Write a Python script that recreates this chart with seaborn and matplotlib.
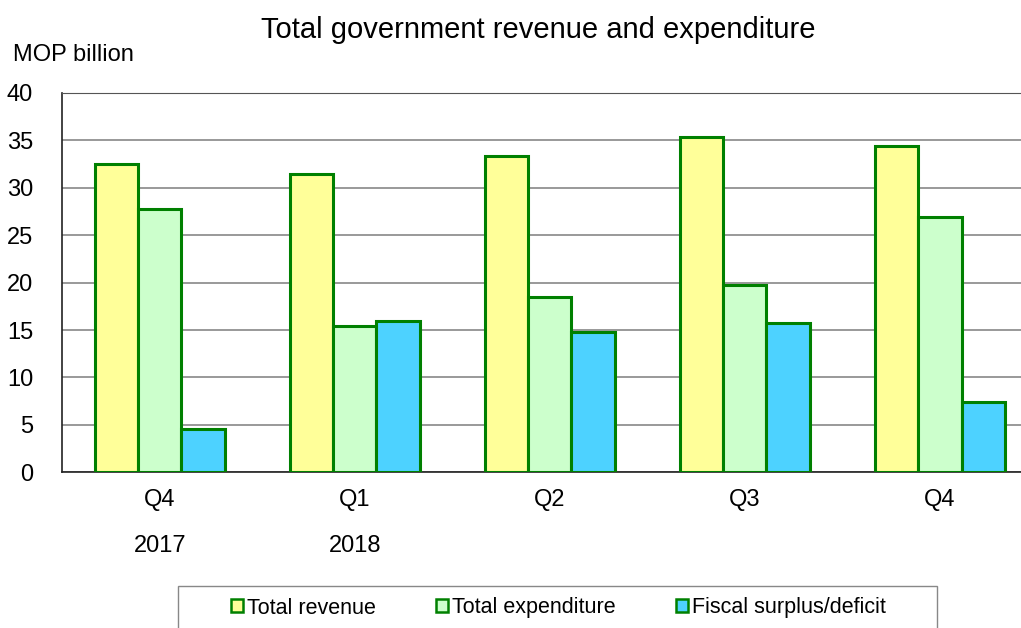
import pandas as pd
import matplotlib.pyplot as plt
import seaborn as sns
from matplotlib.patches import Rectangle

# Values (MOP billion)
quarters = ['Q4', 'Q1', 'Q2', 'Q3', 'Q4 ']
years = ['2017', '2018', '', '', '']
revenue = [32.5, 31.4, 33.4, 35.4, 34.4]
expenditure = [27.8, 15.4, 18.5, 19.7, 26.9]
surplus = [4.6, 16.0, 14.8, 15.7, 7.4]
series = ['Total revenue', 'Total expenditure', 'Fiscal surplus/deficit']
colors = ['#FFFF99', '#CCFFCC', '#4DD2FF']

df = pd.DataFrame({
    'quarter': quarters * 3,
    'value': revenue + expenditure + surplus,
    'series': [s for s in series for _ in quarters],
})

sns.set_style('white')
plt.rcParams['font.family'] = ['Liberation Sans', 'DejaVu Sans']
plt.rcParams['text.color'] = 'black'
plt.rcParams['xtick.color'] = 'black'
plt.rcParams['ytick.color'] = 'black'

fig = plt.figure(figsize=(10.21, 6.28), dpi=100)
# axes run a little past the right edge, as in the original
ax = fig.add_axes([0.061, 0.248, 0.955, 0.604])

sns.barplot(data=df, x='quarter', y='value', hue='series', palette=colors,
            width=0.667, gap=0, edgecolor='#008000', linewidth=2.2,
            saturation=1, ax=ax, zorder=3)

ax.set_ylim(0, 40)
ax.set_xlim(-0.5, 4.5)
ax.set_yticks(range(0, 41, 5))
ax.yaxis.grid(True, color='#888888', linewidth=1.2, zorder=0)
ax.set_axisbelow(True)
ax.spines['right'].set_visible(False)
ax.spines['top'].set_color('#555555')
ax.spines['left'].set_color('#222222')
ax.spines['bottom'].set_color('#222222')
ax.spines['left'].set_linewidth(1.2)
ax.spines['bottom'].set_linewidth(1.2)
ax.tick_params(axis='y', direction='in', length=6, width=1, labelsize=17,
               pad=21, labelcolor='black')
ax.tick_params(axis='x', length=0, labelsize=17, pad=12, labelcolor='black')
ax.set_xlabel('')
ax.set_ylabel('')
ax.set_xticks(range(len(quarters)))
ax.set_xticklabels([q.strip() for q in quarters])

for i, yr in enumerate(years):
    if yr:
        ax.text(i, -7.8, yr, ha='center', va='center', fontsize=17)

fig.text(0.527, 0.952, 'Total government revenue and expenditure',
         ha='center', va='center', fontsize=21)
fig.text(0.013, 0.913, 'MOP billion', ha='left', va='center', fontsize=17)

handles, labels = ax.get_legend_handles_labels()
ax.legend_.remove()
leg = fig.legend(handles, labels, loc='center', ncol=3,
                 bbox_to_anchor=(0.547, 1 - 608 / 628), fontsize=15.5,
                 frameon=False, handlelength=0.55, handleheight=0.55,
                 handletextpad=0.2, columnspacing=2.8, borderpad=0,
                 borderaxespad=0)
for p in leg.get_patches():
    p.set_linewidth(1.8)

# legend frame, running off the bottom of the image
fig.patches.append(Rectangle((178 / 1021, -0.05), (937 - 178) / 1021,
                             0.05 + 1 - 586 / 628, transform=fig.transFigure,
                             fill=False, edgecolor='#888888', linewidth=1))

fig.savefig('out.png', dpi=100)
